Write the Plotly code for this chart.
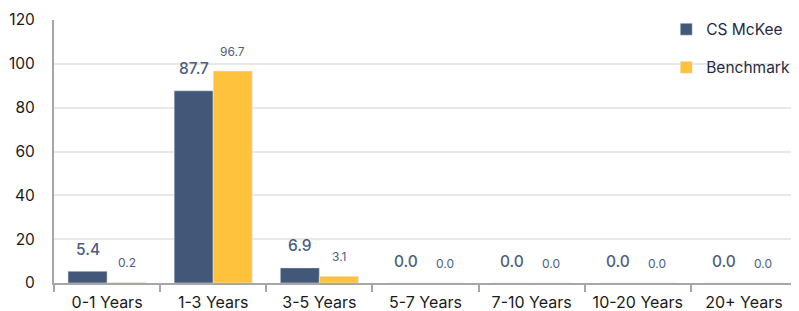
import plotly.graph_objects as go

categories = ["0-1 Years", "1-3 Years", "3-5 Years", "5-7 Years", "7-10 Years", "10-20 Years", "20+ Years"]
cs_mckee = [5.4, 87.7, 6.9, 0.0, 0.0, 0.0, 0.0]
benchmark = [0.2, 96.7, 3.1, 0.0, 0.0, 0.0, 0.0]

BLUE = "#435878"
YELLOW = "#FFC23C"
LABEL = "#4B5E80"
FONT = "Inter, Open Sans, sans-serif"

fig = go.Figure()
fig.add_trace(go.Bar(name="CS McKee", x=categories, y=cs_mckee, marker_color=BLUE,
                     legendgroup="a", hoverinfo="skip"))
fig.add_trace(go.Bar(name="Benchmark", x=categories, y=benchmark, marker_color=YELLOW,
                     legendgroup="b", hoverinfo="skip"))

for c, v in zip(categories, cs_mckee):
    fig.add_annotation(x=c, y=v, text=f"{v:.1f}", showarrow=False, xshift=-19.5, yshift=22,
                       font=dict(family=FONT, size=15.5, color=LABEL, weight=500), yanchor="middle")
for c, v in zip(categories, benchmark):
    fig.add_annotation(x=c, y=v, text=f"{v:.1f}", showarrow=False, xshift=19.5, yshift=20,
                       font=dict(family=FONT, size=12, color=LABEL), yanchor="middle")

# page body has an 8px margin: compensate so the plot area lands where the reference has it
fig.update_layout(
    width=791, height=303,
    margin=dict(l=46, r=2, t=12, b=28, autoexpand=False),
    paper_bgcolor="white", plot_bgcolor="white",
    barmode="group", bargap=0.264, bargroupgap=0,
    font=dict(family=FONT, size=15, color="#1a1a1a"),
    showlegend=True,
    legend=dict(x=0.824, xanchor="left", y=1.028, yanchor="top",
                font=dict(family=FONT, size=15.5, color="#1F2A44"),
                tracegroupgap=15, bgcolor="rgba(0,0,0,0)"),
    xaxis=dict(showline=True, linecolor="#A6A6A6", linewidth=2, ticks="outside",
               tickson="boundaries", ticklen=7, tickcolor="#A6A6A6", tickwidth=2,
               tickangle=0, automargin=False, ticklabelstandoff=4,
               tickfont=dict(family=FONT, size=16, color="#1a1a1a")),
    yaxis=dict(range=[0, 120], dtick=20, showline=True, linecolor="#A6A6A6", linewidth=2,
               gridcolor="#E8E8E8", gridwidth=2, zeroline=False,
               ticklabelstandoff=14, automargin=False,
               tickfont=dict(family=FONT, size=15.5, color="#1a1a1a")),
)

fig.write_html("out.html")
